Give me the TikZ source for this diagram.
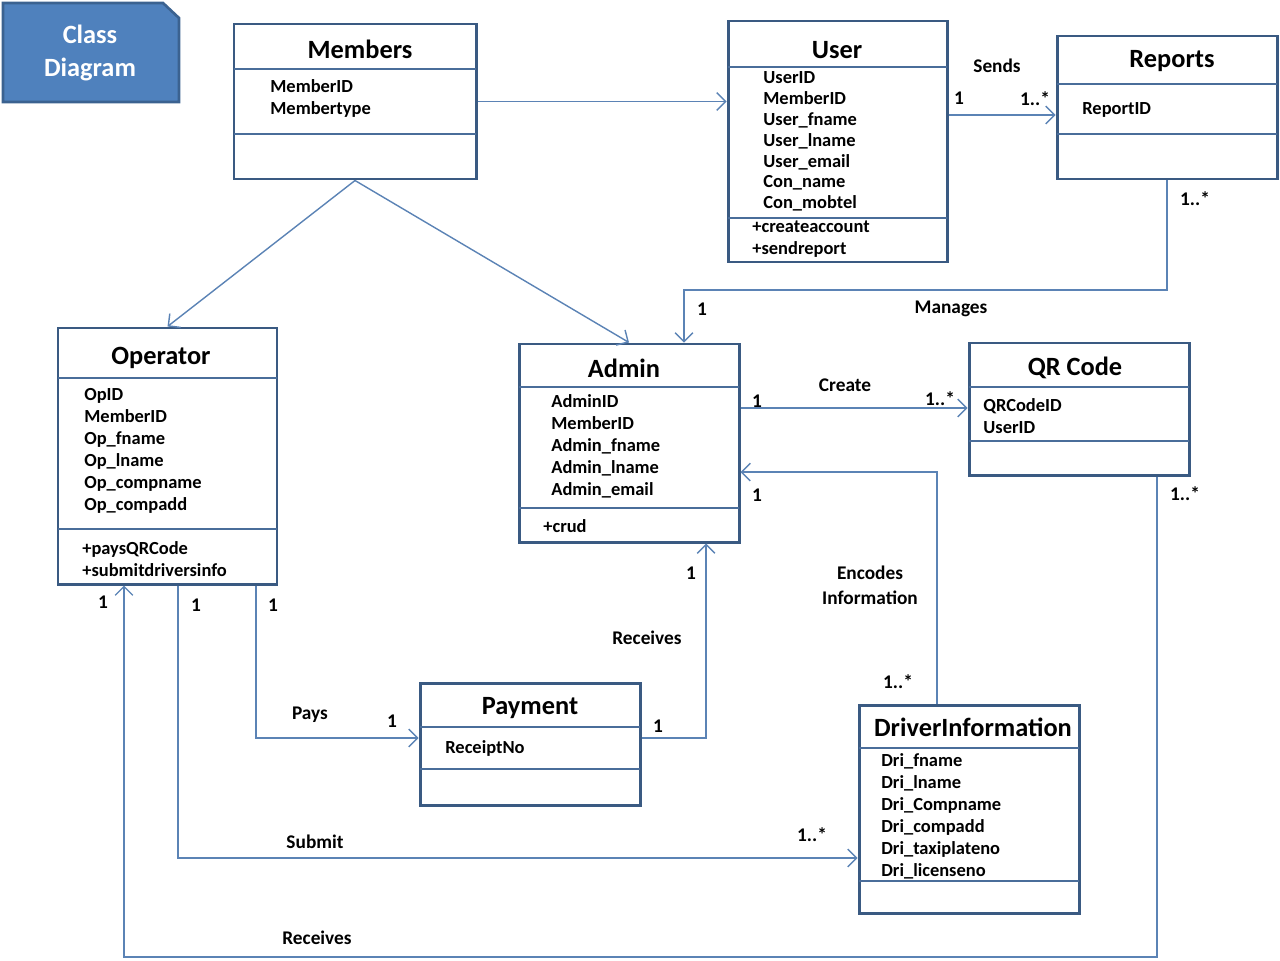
\documentclass[tikz,border=0pt]{standalone}
\usepackage{fontspec}
\setmainfont{Carlito}
\usetikzlibrary{arrows.meta,fit}
\definecolor{boxline}{HTML}{3A5A82}
\definecolor{divline}{HTML}{4A6D9A}
\definecolor{conncol}{HTML}{5B83B5}
\definecolor{badgefill}{HTML}{4F81BD}
\definecolor{badgeline}{HTML}{3B6290}
\begin{document}
\begin{tikzpicture}[x=0.02cm,y=-0.02cm,
 classbox/.style={draw=boxline,line width=1.7pt,inner sep=0pt,fill=white},
 divider/.style={draw=divline,line width=0.8pt},
 title/.style={font=\bfseries\fontsize{15}{18}\selectfont,inner sep=0pt,yshift=-0.04cm},
 attr/.style={font=\bfseries\fontsize{10.5}{12}\selectfont,anchor=west,inner sep=0pt,text height=7pt,text depth=2pt,yshift=-0.04cm},
 lbl/.style={font=\bfseries\fontsize{11}{14}\selectfont,inner sep=0pt,align=center,yshift=-0.04cm},
 conn/.style={draw=conncol,line width=0.8pt,-{Straight Barb[length=5pt,width=10pt]}}]
\useasboundingbox (0,0) rectangle (1280,960);

% badge
\path[fill=badgefill,draw=badgeline,line width=1.5pt] (3,3) -- (163,3) -- (179,18) -- (179,102) -- (3,102) -- cycle;
\node[font=\bfseries\fontsize{15}{19}\selectfont,text=white,align=center,inner sep=0pt] (badge) at (90,53) {Class\\Diagram};

% Members
\node[classbox,fit={(234,24)(476,179)}] (members) {};
\draw[divider] (234,69) -- (476,69);
\draw[divider] (234,134) -- (476,134);
\node[title] (membersT) at (360,47) {Members};
\node[attr] (m1) at (270,86) {MemberID};
\node[attr] (m2) at (270,108) {Membertype};

% User
\node[classbox,fit={(728,21)(947,262)}] (user) {};
\draw[divider] (728,67) -- (947,67);
\draw[divider] (728,218) -- (947,218);
\node[title] (userT) at (837,48) {User};
\node[attr] (u1) at (763,77) {UserID};
\node[attr] (u2) at (763,98) {MemberID};
\node[attr] (u3) at (763,119) {User\_fname};
\node[attr] (u4) at (763,140) {User\_lname};
\node[attr] (u5) at (763,161) {User\_email};
\node[attr] (u6) at (763,181) {Con\_name};
\node[attr] (u7) at (763,202) {Con\_mobtel};
\node[attr] (u8) at (752,226) {+createaccount};
\node[attr] (u9) at (752,248) {+sendreport};

% Reports
\node[classbox,fit={(1057,36)(1277,179)}] (reports) {};
\draw[divider] (1057,84) -- (1277,84);
\draw[divider] (1057,134) -- (1277,134);
\node[title] (reportsT) at (1172,59) {Reports};
\node[attr] (r1) at (1082,108) {ReportID};

% Operator
\node[classbox,fit={(58,328)(277,584)}] (operator) {};
\draw[divider] (58,378) -- (277,378);
\draw[divider] (58,529) -- (277,529);
\node[title] (operatorT) at (161,356) {Operator};
\node[attr] (o1) at (84,394) {OpID};
\node[attr] (o2) at (84,416) {MemberID};
\node[attr] (o3) at (84,438) {Op\_fname};
\node[attr] (o4) at (84,460) {Op\_lname};
\node[attr] (o5) at (84,482) {Op\_compname};
\node[attr] (o6) at (84,504) {Op\_compadd};
\node[attr] (o7) at (82,548) {+paysQRCode};
\node[attr] (o8) at (82,570) {+submitdriversinfo};

% Admin
\node[classbox,fit={(519,344)(739,542)}] (admin) {};
\draw[divider] (519,387) -- (739,387);
\draw[divider] (519,508) -- (739,508);
\node[title] (adminT) at (624,366) {Admin};
\node[attr] (a1) at (551,401) {AdminID};
\node[attr] (a2) at (551,423) {MemberID};
\node[attr] (a3) at (551,445) {Admin\_fname};
\node[attr] (a4) at (551,467) {Admin\_lname};
\node[attr] (a5) at (551,489) {Admin\_email};
\node[attr] (a6) at (543,526) {+crud};

% QR Code
\node[classbox,fit={(969,343)(1189,475)}] (qr) {};
\draw[divider] (969,387) -- (1189,387);
\draw[divider] (969,441) -- (1189,441);
\node[title] (qrT) at (1075,366) {QR Code};
\node[attr] (q1) at (983,405) {QRCodeID};
\node[attr] (q2) at (983,427) {UserID};

% Payment
\node[classbox,fit={(420,683)(640,805)}] (payment) {};
\draw[divider] (420,727) -- (640,727);
\draw[divider] (420,769) -- (640,769);
\node[title] (paymentT) at (530,706) {Payment};
\node[attr] (p1) at (445,747) {ReceiptNo};

% DriverInformation
\node[classbox,fit={(859,705)(1079,913)}] (driver) {};
\draw[divider] (859,748) -- (1079,748);
\draw[divider] (859,881) -- (1079,881);
\node[title] (driverT) at (973,725) {DriverInformation};
\node[attr] (d1) at (881,760) {Dri\_fname};
\node[attr] (d2) at (881,782) {Dri\_lname};
\node[attr] (d3) at (881,804) {Dri\_Compname};
\node[attr] (d4) at (881,826) {Dri\_compadd};
\node[attr] (d5) at (881,848) {Dri\_taxiplateno};
\node[attr] (d6) at (881,870) {Dri\_licenseno};

% connectors
\draw[conn] (members.east) -- (members.east -| user.west);
\draw[conn] (user.east |- 0,115) -- (reports.west |- 0,115);
\draw[conn] (reports.south) |- (684,290) -- (admin.north -| 684,0);
\draw[conn] (members.south) -- (operator.north);
\draw[conn] (members.south) -- (admin.north);
\draw[conn] (admin.east |- 0,408) -- (qr.west |- 0,408);
\draw[conn] (driver.north -| 937,0) |- (admin.east |- 0,472);
\draw[conn] (operator.south -| 256,0) |- (payment.west |- 0,738);
\draw[conn] (payment.east |- 0,738) -| (admin.south -| 706,0);
\draw[conn] (operator.south -| 178,0) |- (driver.west |- 0,858);
\draw[conn] (qr.south -| 1157,0) -- (1157,957) -| (operator.south -| 124,0);

% labels
\node[lbl] (lSends) at (997,64) {Sends};
\node[lbl] (lS1) at (959,96) {1};
\node[lbl] (lS2) at (1035,97) {1..*};
\node[lbl] (lM1) at (1195,197) {1..*};
\node[lbl] (lM2) at (702,307) {1};
\node[lbl] (lManages) at (951,307) {Manages};
\node[lbl] (lCreate) at (845,383) {Create};
\node[lbl] (lC1) at (757,399) {1};
\node[lbl] (lC2) at (940,397) {1..*};
\node[lbl] (lE1) at (757,493) {1};
\node[lbl] (lE2) at (898,680) {1..*};
\node[lbl] (lEnc) at (870,583) {Encodes\\Information};
\node[lbl] (lP1) at (273,603) {1};
\node[lbl] (lPays) at (310,713) {Pays};
\node[lbl] (lP2) at (392,719) {1};
\node[lbl] (lR1) at (658,724) {1};
\node[lbl] (lR2) at (691,571) {1};
\node[lbl] (lRec) at (647,636) {Receives};
\node[lbl] (lSu1) at (196,603) {1};
\node[lbl] (lSubmit) at (315,840) {Submit};
\node[lbl] (lSu2) at (812,833) {1..*};
\node[lbl] (lQ1) at (1185,492) {1..*};
\node[lbl] (lQ2) at (103,600) {1};
\node[lbl] (lRec2) at (317,936) {Receives};
\end{tikzpicture}
\end{document}
